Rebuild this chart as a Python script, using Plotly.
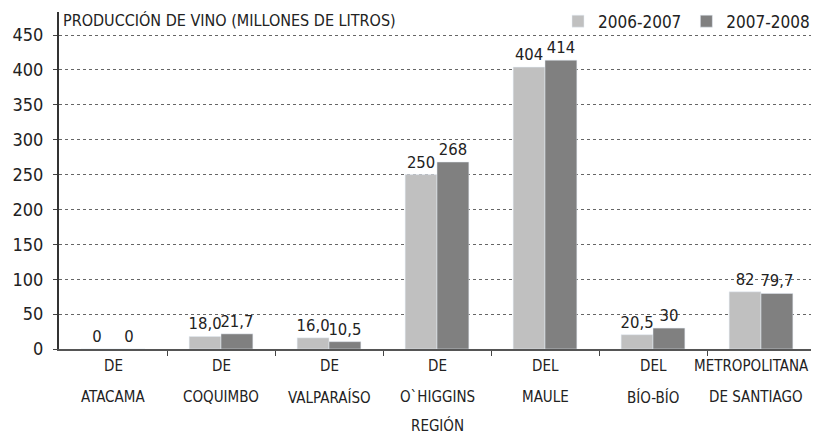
import plotly.graph_objects as go

regions_line1 = ["DE", "DE", "DE", "DE", "DEL", "DEL", "METROPOLITANA"]
regions_line2 = ["ATACAMA", "COQUIMBO", "VALPARAÍSO", "O`HIGGINS", "MAULE", "BÍO-BÍO", "DE SANTIAGO"]
series_names = ["2006-2007", "2007-2008"]
values_2006 = [0, 18.0, 16.0, 250, 404, 20.5, 82]
values_2007 = [0, 21.7, 10.5, 268, 414, 30, 79.7]
labels_2006 = ["0", "18,0", "16,0", "250", "404", "20,5", "82"]
labels_2007 = ["0", "21,7", "10,5", "268", "414", "30", "79,7"]
y_ticks = [0, 50, 100, 150, 200, 250, 300, 350, 400, 450]
title_text = "PRODUCCIÓN DE VINO (MILLONES DE LITROS)"
axis_title = "REGIÓN"

FONT = "DejaVu Sans Condensed, Liberation Sans Narrow, sans-serif"
cats = list(range(len(regions_line1)))

fig = go.Figure()
fig.add_trace(go.Bar(x=cats, y=values_2006, name=series_names[0], marker_color="#c0c0c0",
                     text=labels_2006, textposition="outside", cliponaxis=False,
                     constraintext="none", textfont=dict(size=16.5, color="#222")))
fig.add_trace(go.Bar(x=cats, y=values_2007, name=series_names[1], marker_color="#808080",
                     text=labels_2007, textposition="outside", cliponaxis=False,
                     constraintext="none", textfont=dict(size=16.5, color="#222")))

annotations = []
last = len(cats) - 1
for i in cats:
    is_last = i == last
    for line, shift in ((regions_line1[i], -6), (regions_line2[i], -37)):
        annotations.append(dict(x=i + 0.5 if is_last else i, y=0, xref="x", yref="paper",
                                text=line, showarrow=False, yanchor="top",
                                xanchor="right" if is_last else "center",
                                xshift=0 if not is_last else (-4 if line == regions_line1[i] else -10),
                                yshift=shift,
                                font=dict(size=15, color="#222", family=FONT)))
annotations.append(dict(x=0.5, y=0, xref="paper", yref="paper", text=axis_title,
                        showarrow=False, yanchor="top", yshift=-65,
                        font=dict(size=15, color="#222", family=FONT)))
annotations.append(dict(x=0.003, y=1.0, xref="paper", yref="paper", text=title_text,
                        showarrow=False, xanchor="left", yanchor="top", yshift=3,
                        font=dict(size=16, color="#222", family=FONT)))

# page body has an 8px margin, so the figure is shifted; compensate in size/margins
fig.update_layout(
    width=811, height=428,
    margin=dict(l=51, r=4, t=4, b=87, autoexpand=False),
    paper_bgcolor="white", plot_bgcolor="white",
    font=dict(family=FONT, size=16, color="#222"),
    barmode="group", bargap=0.41, bargroupgap=0,
    showlegend=True,
    legend=dict(orientation="h", x=1.0, xanchor="right", y=1.025, yanchor="top",
                font=dict(size=17, color="#222"), bgcolor="rgba(0,0,0,0)",
                itemwidth=30, traceorder="normal"),
    annotations=annotations,
    xaxis=dict(range=[-0.5, len(cats) - 0.5], tickmode="array",
               tickvals=[i + 0.5 for i in cats[:-1]], ticktext=["" for _ in cats[:-1]],
               ticks="outside", ticklen=5, tickcolor="#444", showgrid=False,
               showline=True, linecolor="#555", linewidth=2, zeroline=False,
               automargin=False),
    yaxis=dict(range=[0, 483], tickmode="array", tickvals=y_ticks,
               ticks="outside", ticklen=4, tickcolor="#444", ticklabelstandoff=6,
               showgrid=True, gridcolor="#666", griddash="dot", gridwidth=1,
               showline=True, linecolor="#333", linewidth=2, zeroline=False,
               tickfont=dict(size=18, color="#222"), automargin=False),
)

fig.write_html("out.html")
